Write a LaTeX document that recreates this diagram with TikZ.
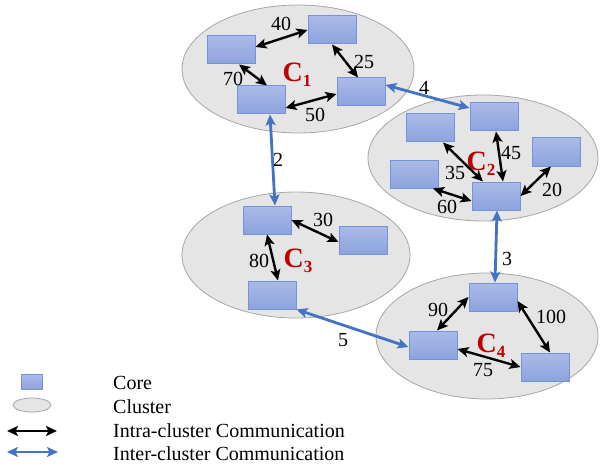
\documentclass[tikz,border=0pt]{standalone}
\usepackage{fontspec}
\setmainfont{Liberation Serif}
\usetikzlibrary{arrows.meta}
\definecolor{clfill}{HTML}{E5E5E5}
\definecolor{cldraw}{HTML}{A6A6A6}
\definecolor{coretop}{HTML}{AABAE8}
\definecolor{corebot}{HTML}{8DA3DD}
\definecolor{coreline}{HTML}{7493DA}
\definecolor{interblue}{HTML}{4472C4}
\definecolor{clred}{HTML}{C00000}
\tikzset{
  cluster/.style={draw=cldraw, fill=clfill, line width=0.8pt},
  core/.style={draw=coreline, line width=1pt, top color=coretop, bottom color=corebot,
    minimum width=48pt, minimum height=28pt, inner sep=0pt},
  tip/.tip={Stealth[length=11pt,width=10pt,inset=2.5pt]},
  intra/.style={line width=2.4pt, black, tip-tip},
  inter/.style={line width=2.8pt, interblue, tip-tip},
  wlabel/.style={font=\rmfamily\fontsize{20}{20}\selectfont, inner sep=0pt},
  cname/.style={text=clred, inner sep=0pt},
  legtext/.style={font=\rmfamily\fontsize{20}{20}\selectfont, anchor=west, inner sep=0pt}
}
\newcommand{\clabel}[1]{\rmfamily\fontsize{28}{28}\selectfont\bfseries C\raisebox{-5pt}{\fontsize{17}{17}\selectfont #1}}
\begin{document}
\begin{tikzpicture}[x=1pt,y=-1pt]
\useasboundingbox (0,0) rectangle (601,465);

% clusters
\draw[cluster] (298,69) ellipse [x radius=116, y radius=64];
\draw[cluster] (483,158) ellipse [x radius=115, y radius=63];
\draw[cluster] (296,255) ellipse [x radius=114, y radius=63];
\draw[cluster] (487,336) ellipse [x radius=111, y radius=63];

% cluster names
\node[cname] (n1) at (297,75) {\clabel{1}};
\node[cname] (n2) at (481,164) {\clabel{2}};
\node[cname] (n3) at (298,261) {\clabel{3}};
\node[cname] (n4) at (491,346) {\clabel{4}};

% cores of C1
\node[core] (c1a) at (231,50) {};
\node[core] (c1b) at (332,30) {};
\node[core] (c1c) at (261,100) {};
\node[core] (c1d) at (361,92) {};
% cores of C2
\node[core] (c2a) at (494,117) {};
\node[core] (c2b) at (430,128) {};
\node[core] (c2c) at (556,152) {};
\node[core] (c2d) at (414,174) {};
\node[core] (c2e) at (496,196) {};
% cores of C3
\node[core] (c3a) at (267,220) {};
\node[core] (c3b) at (363,240) {};
\node[core] (c3c) at (272,295) {};
% cores of C4
\node[core] (c4a) at (493,297) {};
\node[core] (c4b) at (433,345) {};
\node[core] (c4c) at (545,367) {};

% intra-cluster links, C1
\draw[intra] ([yshift=3pt]c1a.east) -- (c1b.west);
\draw[intra] ([xshift=8pt]c1a.south) -- ([xshift=6pt]c1c.north);
\draw[intra] (c1b.south) -- ([xshift=-3pt]c1d.north);
\draw[intra] ([yshift=-8pt]c1c.east) -- ([yshift=-2pt]c1d.west);
% C2
\draw[intra] ([xshift=2pt]c2a.south) -- ([xshift=7pt]c2e.north);
\draw[intra] ([xshift=13pt]c2b.south) -- ([xshift=-13pt]c2e.north);
\draw[intra] ([xshift=-5pt]c2c.south) -- (c2e.east);
\draw[intra] ([xshift=19pt]c2d.south) -- ([yshift=-5pt]c2e.west);
% C3
\draw[intra] (c3a.east) -- ([yshift=-2pt]c3b.west);
\draw[intra] (c3a.south) -- ([xshift=6pt]c3c.north);
% C4
\draw[intra] ([xshift=4pt]c4b.north) -- (c4a.west);
\draw[intra] ([yshift=-4pt]c4a.east) -- ([xshift=5pt]c4c.north);
\draw[intra] ([yshift=-4pt]c4b.east) -- (c4c.west);

% inter-cluster links
\draw[inter] ([yshift=7pt]c1d.east) -- ([yshift=9pt]c2a.west);
\draw[inter] ([xshift=9pt]c1c.south) -- ([xshift=8pt]c3a.north);
\draw[inter] ([xshift=1pt]c2e.south) -- ([xshift=2pt]c4a.north);
\draw[inter] (c3c.south east) -- ([yshift=-2pt]c4b.west);

% link weights
\node[wlabel] (w40) at (281,24) {40};
\node[wlabel] (w70) at (233,79) {70};
\node[wlabel] (w25) at (364,62) {25};
\node[wlabel] (w50) at (315,115) {50};
\node[wlabel] (w4) at (424,88) {4};
\node[wlabel] (w2) at (278,160) {2};
\node[wlabel] (w3) at (507,259) {3};
\node[wlabel] (w5) at (343,340) {5};
\node[wlabel] (w45) at (511,153) {45};
\node[wlabel] (w35) at (455,173) {35};
\node[wlabel] (w20) at (552,190) {20};
\node[wlabel] (w60) at (447,207) {60};
\node[wlabel] (w30) at (323,220) {30};
\node[wlabel] (w80) at (259,261) {80};
\node[wlabel] (w90) at (438,310) {90};
\node[wlabel] (w100) at (551,317) {100};
\node[wlabel] (w75) at (483,370) {75};

% legend
\node[core, minimum width=21pt, minimum height=15pt] (lcore) at (32,382) {};
\draw[cluster] (32,405) ellipse [x radius=19, y radius=7];
\coordinate (la1) at (7,431);
\coordinate (la2) at (57,431);
\coordinate (lb1) at (7,452);
\coordinate (lb2) at (58,452);
\draw[intra, line width=2.2pt] (la1) -- (la2);
\draw[inter, line width=2.4pt] (lb1) -- (lb2);
\node[legtext] (t1) at (113,383) {Core};
\node[legtext] (t2) at (113,407) {Cluster};
\node[legtext] (t3) at (113,431) {Intra-cluster Communication};
\node[legtext] (t4) at (113,454) {Inter-cluster Communication};
\end{tikzpicture}
\end{document}
